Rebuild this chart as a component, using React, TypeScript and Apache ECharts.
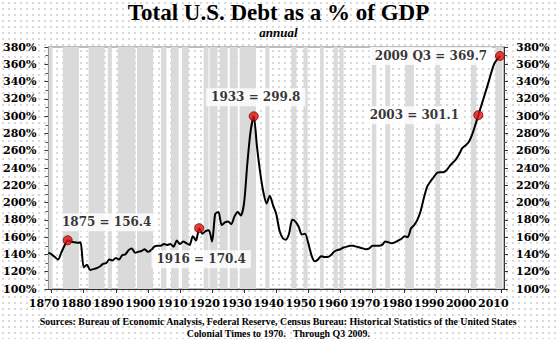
import React, { useEffect, useRef } from "react";
import * as echarts from "echarts";

// Annual total debt as a share of GDP (percent); the last point is 2009 Q3.
const years = [
  1869, 1870, 1871, 1872, 1873, 1874, 1875, 1876, 1877, 1878, 1879,
  1880, 1881, 1882, 1883, 1884, 1885, 1886, 1887, 1888, 1889,
  1890, 1891, 1892, 1893, 1894, 1895, 1896, 1897, 1898, 1899,
  1900, 1901, 1902, 1903, 1904, 1905, 1906, 1907, 1908, 1909,
  1910, 1911, 1912, 1913, 1914, 1915, 1916, 1917, 1918, 1919,
  1920, 1921, 1922, 1923, 1924, 1925, 1926, 1927, 1928, 1929,
  1930, 1931, 1932, 1933, 1934, 1935, 1936, 1937, 1938, 1939,
  1940, 1941, 1942, 1943, 1944, 1945, 1946, 1947, 1948, 1949,
  1950, 1951, 1952, 1953, 1954, 1955, 1956, 1957, 1958, 1959,
  1960, 1961, 1962, 1963, 1964, 1965, 1966, 1967, 1968, 1969,
  1970, 1971, 1972, 1973, 1974, 1975, 1976, 1977, 1978, 1979,
  1980, 1981, 1982, 1983, 1984, 1985, 1986, 1987, 1988, 1989,
  1990, 1991, 1992, 1993, 1994, 1995, 1996, 1997, 1998, 1999,
  2000, 2001, 2002, 2003, 2004, 2005, 2006, 2007, 2008, 2009.75,
];

const debtPct = [
  142, 140, 137, 134, 142, 150, 156.4, 155, 154, 153.5, 154,
  125, 128, 122, 123, 124, 126, 129, 130, 134, 133,
  136, 134, 139, 140, 145, 147, 142, 143, 144, 146,
  143, 145, 149, 150, 150, 152, 151, 152, 149, 156,
  152, 155, 153, 151, 161, 156, 170.4, 164, 167, 168,
  155, 187, 189, 174, 177, 178, 175, 184, 189, 185,
  200, 245, 282, 299.8, 265, 235, 212, 199, 208, 197,
  187, 168, 159, 157, 164, 180, 178, 172, 163, 164,
  153, 139, 132, 134, 138, 137, 137, 139, 143, 145,
  146, 148, 149, 150, 150, 149, 148, 147, 146, 147,
  150, 150, 150, 151, 155, 154, 153, 154, 156, 158,
  161, 160, 170, 174, 180, 190, 205, 218, 224, 229,
  234, 235, 235, 237, 242, 246, 250, 256, 263, 266,
  270, 278, 289, 301.1, 313, 325, 337, 350, 361, 369.7,
];

// Highlighted readings
const highlightYears = [1875, 1916, 1933, 2003, 2009.75];
const highlightNames = ["1875", "1916", "1933", "2003", "2009 Q3"];
const highlightPct = [156.4, 170.4, 299.8, 301.1, 369.7];

// Decade ticks on the time axis
const decadeTicks = [
  1870, 1880, 1890, 1900, 1910, 1920, 1930, 1940, 1950, 1960, 1970, 1980, 1990, 2000, 2010,
];

// Shaded recession periods (fractional years)
const recessionStarts = [
  1869, 1873.5, 1881.5, 1887.5, 1890.6, 1896.6, 1904.1, 1907.2, 1910.6,
  1917.4, 1919.2, 1922.4, 1925.5, 1928.6, 1936.6, 1944.7, 1948.5, 1953.7,
  1957.9, 1959.7, 1969.8, 1974, 1980.2, 1989.6, 2000.7, 2008.3,
];
const recessionEnds = [
  1870.3, 1878.5, 1886.5, 1888.8, 1896.1, 1901.6, 1905.8, 1909.6, 1912.7,
  1918.9, 1921.7, 1924.9, 1928.0, 1933.7, 1937.9, 1946.3, 1949.8, 1954.8,
  1959.2, 1961, 1971.2, 1975.5, 1982.9, 1991.1, 2002.4, 2010.5,
];

const SERIF = '"Liberation Serif", "Times New Roman", serif';
const AXIS_FONT = '"DejaVu Serif", serif';

export default function App() {
  const ref = useRef<HTMLDivElement>(null);

  useEffect(() => {
    if (!ref.current) return;
    const chart = echarts.init(ref.current, null, { renderer: "svg" });

    const lineData = years.map((y, i) => [y, debtPct[i]]);
    const labelOffsets = [
      [39, -18],
      [2, 31],
      [2, -19],
      [-64, 0],
      [-69, 0],
    ];
    const pointData = highlightYears.map((y, i) => ({
      value: [y, highlightPct[i]],
      label: {
        offset: labelOffsets[i],
        formatter: `${highlightNames[i]} = ${highlightPct[i].toFixed(1)}`,
      },
    }));

    const axisLabel = {
      fontFamily: AXIS_FONT,
      fontWeight: "bold" as const,
      fontSize: 11,
      color: "#000",
    };

    const yAxisBase = {
      type: "value" as const,
      min: 100,
      max: 380,
      interval: 20,
      axisLine: { show: true, lineStyle: { color: "#333", width: 1 } },
      axisTick: { show: true, length: 4, lineStyle: { color: "#333" } },
      minorTick: { show: true, splitNumber: 2, length: 3, lineStyle: { color: "#555" } },
      splitLine: { show: false },
      axisLabel: { ...axisLabel, formatter: "{value}%", margin: 12 },
    };

    chart.setOption({
      animation: false,
      title: [
        {
          text: "Total U.S. Debt as a % of GDP",
          left: "center",
          top: 1,
          padding: 0,
          textStyle: {
            fontFamily: SERIF,
            fontWeight: "bold",
            fontSize: 23,
            lineHeight: 22,
            color: "#000",
          },
        },
        {
          text: "annual",
          left: "center",
          top: 26,
          padding: 0,
          textStyle: {
            fontFamily: SERIF,
            fontWeight: "bold",
            fontStyle: "italic",
            fontSize: 13,
            lineHeight: 12,
            color: "#000",
          },
        },
      ],
      grid: {
        left: 48,
        right: 53,
        top: 47,
        bottom: 50,
        show: true,
        borderColor: "#7a7a7a",
        borderWidth: 1,
        backgroundColor: "transparent",
      },
      xAxis: {
        type: "value",
        min: 1869,
        max: 2011,
        axisLine: { show: true, lineStyle: { color: "#333" } },
        axisTick: { show: true, customValues: decadeTicks, length: 4, lineStyle: { color: "#333" } },
        axisLabel: {
          ...axisLabel,
          customValues: decadeTicks,
          margin: 9,
          padding: [0, 15, 0, 0],
          hideOverlap: false,
          showMinLabel: true,
          showMaxLabel: true,
          formatter: (v: number) => String(v),
        },
        splitLine: { show: false },
      },
      yAxis: [
        { ...yAxisBase, position: "left" },
        { ...yAxisBase, position: "right" },
      ],
      graphic: [
        {
          type: "text",
          left: "center",
          top: 316,
          style: {
            text:
              "Sources: Bureau of Economic Analysis, Federal Reserve, Census Bureau: Historical Statistics of the United States",
            font: `bold 9.9px ${SERIF}`,
            fill: "#000",
          },
        },
        {
          type: "text",
          left: "center",
          top: 328,
          style: {
            text: "Colonial Times to 1970.   Through Q3 2009.",
            font: `bold 9.9px ${SERIF}`,
            fill: "#000",
          },
        },
      ],
      series: [
        {
          type: "line",
          data: lineData,
          smooth: 0.25,
          showSymbol: false,
          lineStyle: { color: "#000", width: 2 },
          z: 3,
          markArea: {
            silent: true,
            itemStyle: { color: "#dadada" },
            data: recessionStarts.map((s, i) => [{ xAxis: s }, { xAxis: recessionEnds[i] }]),
          },
        },
        {
          type: "scatter",
          data: pointData,
          symbol: "circle",
          symbolSize: 9,
          itemStyle: { color: "#dd1111", borderColor: "#7a0000", borderWidth: 1 },
          z: 5,
          label: {
            show: true,
            position: "inside",
            align: "center",
            verticalAlign: "middle",
            fontFamily: AXIS_FONT,
            fontWeight: "bold",
            fontSize: 12,
            color: "#000",
            backgroundColor: "#ffffff",
            padding: [3, 5],
          },
        },
      ],
    });

    return () => chart.dispose();
  }, []);

  return (
    <div
      ref={ref}
      style={{
        position: "absolute",
        left: 0,
        top: 0,
        width: 557,
        height: 339,
        backgroundColor: "#fff",
        backgroundImage: "radial-gradient(circle, #c4c4c4 0.6px, rgba(255,255,255,0) 0.9px)",
        backgroundSize: "6px 6px",
      }}
    />
  );
}
